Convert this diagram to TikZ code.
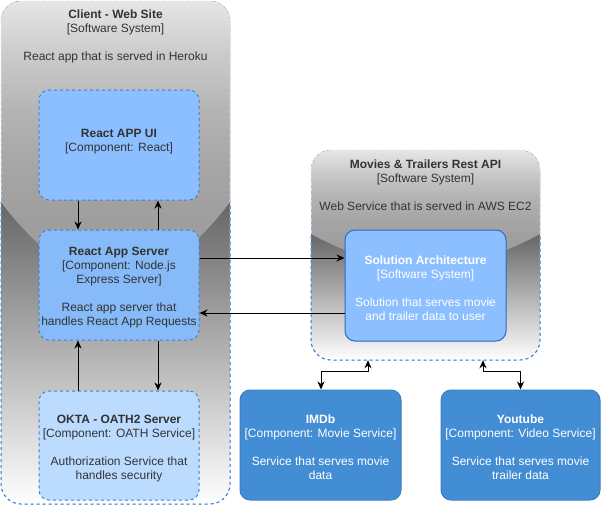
\documentclass[tikz,border=0pt]{standalone}
\usepackage{fontspec}
\setmainfont{Liberation Sans}
\usetikzlibrary{arrows.meta}

\definecolor{txt}{HTML}{333333}
\definecolor{cborder}{HTML}{2A7AD0}
\definecolor{cborderlight}{HTML}{D6E6F7}
\definecolor{uifill}{HTML}{8CBFFF}
\definecolor{srvfill}{HTML}{86BAF8}
\definecolor{oktafill}{HTML}{BCDCFF}
\definecolor{nborder}{HTML}{3C82D0}
\definecolor{solfill}{HTML}{8CBFFF}
\definecolor{solborder}{HTML}{2C6CC0}
\definecolor{extfill}{HTML}{438DD5}
\definecolor{extborder}{HTML}{3C7FC0}
\definecolor{gA}{RGB}{230,230,230}
\definecolor{gB}{RGB}{202,202,202}
\definecolor{gC}{RGB}{180,180,180}
\definecolor{gD}{RGB}{166,166,166}
\definecolor{gE}{RGB}{158,158,158}
\definecolor{gF}{RGB}{157,157,157}
\definecolor{gG}{RGB}{159,159,159}
\pgfdeclareverticalshading{glass}{100bp}{color(0bp)=(gG); color(25bp)=(gG); color(29.55bp)=(gF); color(38.64bp)=(gE); color(47.73bp)=(gD); color(56.82bp)=(gC); color(65.91bp)=(gB); color(75bp)=(gA); color(100bp)=(gA)}
\newcommand\dnstrut{\rule{0pt}{13.8pt}}

\begin{document}
\begin{tikzpicture}[x=1pt,y=-1pt,
  lbl/.style={font=\fontsize{12}{14}\selectfont, align=center, inner sep=0pt},
  comp/.style={lbl, rounded corners=10pt, minimum width=160pt, minimum height=110pt, line width=1pt},
  dashcomp/.style={comp, text=txt, draw=nborder, dash pattern=on 3pt off 3pt},
  ext/.style={comp, text=white, fill=extfill, draw=extborder},
  cont/.style={dash pattern=on 3pt off 3pt, line width=1pt},
  arr/.style={line width=1pt, -{Stealth[length=8pt,width=7pt,inset=2.5pt]}},
  darr/.style={line width=1pt, {Stealth[length=8pt,width=7pt,inset=2.5pt]}-{Stealth[length=8pt,width=7pt,inset=2.5pt]}}
]
\useasboundingbox (0,0) rectangle (601,507);

% ---------- Client container ----------
\shade[top color=black, bottom color=white, rounded corners=20pt] (1,1) rectangle (230,504);
\shade[shading=glass] (1,202.2) -- (1,21) arc[start angle=180, end angle=270, radius=20]
  -- (210,1) arc[start angle=270, end angle=360, radius=20]
  -- (230,202.2) .. controls (153.67,302.8) and (77.33,302.8) .. (1,202.2) -- cycle;
\draw[cont, cborderlight, rounded corners=20pt] (1,1) rectangle (230,504);
\begin{scope}
  \clip (-5,202.2) rectangle (240,512);
  \draw[cont, cborder, rounded corners=20pt] (1,1) rectangle (230,504);
\end{scope}
\node[lbl, anchor=north, text=txt] (clientlbl) at (115.5,9.5)
  {\textbf{Client - Web Site}\\{[}Software System{]}\\\mbox{}\\React app that is served in Heroku};

% ---------- Movies container ----------
\node[minimum width=229pt, minimum height=210pt, inner sep=0pt] (mov) at (425.5,255) {};
\shade[top color=black, bottom color=white, rounded corners=20pt] (311,150) rectangle (540,360);
\shade[shading=glass] (311,234) -- (311,170) arc[start angle=180, end angle=270, radius=20]
  -- (520,150) arc[start angle=270, end angle=360, radius=20]
  -- (540,234) .. controls (463.67,276) and (387.33,276) .. (311,234) -- cycle;
\draw[cont, cborderlight, rounded corners=20pt] (311,150) rectangle (540,360);
\begin{scope}
  \clip (300,234) rectangle (550,370);
  \draw[cont, cborder, rounded corners=20pt] (311,150) rectangle (540,360);
\end{scope}
\node[lbl, anchor=north, text=txt] (movlbl) at (425.5,159.5)
  {\textbf{Movies \& Trailers Rest API}\\{[}Software System{]}\\\mbox{}\\Web Service that is served in AWS EC2};

% ---------- Components ----------
\node[dashcomp, fill=uifill] (ui) at (119,145)
  {\dnstrut\textbf{React APP UI}\\{[}Component: React{]}\\\mbox{}};
\node[dashcomp, fill=srvfill] (srv) at (119,285)
  {\dnstrut\textbf{React App Server}\\{[}Component: Node.js\\Express Server{]}\\\mbox{}\\React app server that\\handles React App Requests};
\node[dashcomp, fill=oktafill, minimum height=109pt] (okta) at (119,445.5)
  {\dnstrut\textbf{OKTA - OATH2 Server}\\{[}Component: OATH Service{]}\\\mbox{}\\Authorization Service that\\handles security};
\node[comp, text=white, fill=solfill, draw=solborder, minimum width=161pt, minimum height=111pt] (sol) at (425.5,285.5)
  {\dnstrut\textbf{Solution Architecture}\\{[}Software System{]}\\\mbox{}\\Solution that serves movie\\and trailer data to user};
\node[ext, minimum width=161pt] (imdb) at (320.5,445)
  {\dnstrut\textbf{IMDb}\\{[}Component: Movie Service{]}\\\mbox{}\\Service that serves movie\\data};
\node[ext, minimum width=159pt] (yt) at (520.5,445)
  {\dnstrut\textbf{Youtube}\\{[}Component: Video Service{]}\\\mbox{}\\Service that serves movie\\trailer data};

% ---------- Connectors ----------
\draw[arr] ([xshift=-41pt]ui.south) -- ([xshift=-41pt]srv.north);
\draw[arr] ([xshift=39pt]srv.north) -- ([xshift=39pt]ui.south);
\draw[arr] ([xshift=39pt]srv.south) -- ([xshift=39pt]okta.north);
\draw[arr] ([xshift=-41pt]okta.north) -- ([xshift=-41pt]srv.south);
\draw[arr] ([yshift=27pt]srv.east) -- ([yshift=27pt]srv.east -| sol.west);
\draw[arr] ([yshift=-28pt]srv.east -| sol.west) -- ([yshift=-28pt]srv.east);
\draw[darr] ([xshift=-57.5pt]mov.south) -- ++(0,11) -| ([xshift=0.5pt]imdb.north);
\draw[darr] ([xshift=57.5pt]mov.south) -- ++(0,11) -| (yt.north);
\end{tikzpicture}
\end{document}
